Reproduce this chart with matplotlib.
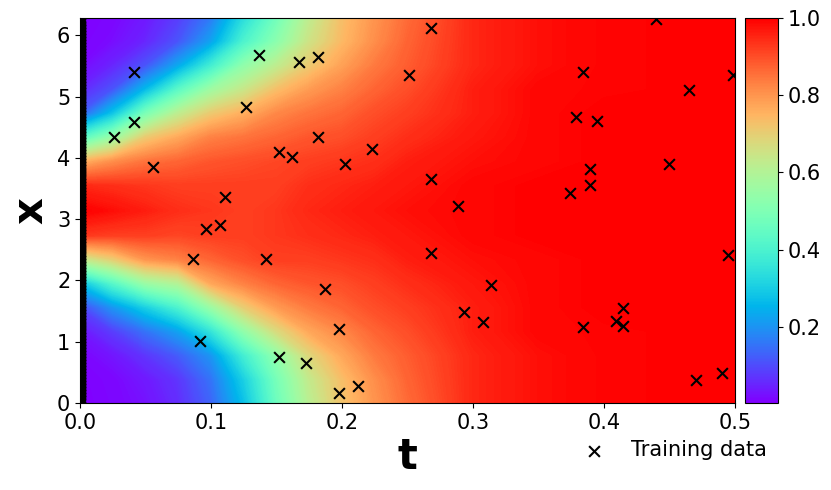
import numpy as np
import matplotlib
matplotlib.use("Agg")
import matplotlib.pyplot as plt
from matplotlib.colors import Normalize
from matplotlib.cm import ScalarMappable

# ---- field values ----
t_grid = [0.0, 0.025, 0.05, 0.075, 0.1, 0.125, 0.15, 0.175, 0.2, 0.225,
          0.25, 0.3, 0.35, 0.4, 0.5]
# columns: distance from x = pi in steps of pi/8 (0 .. 8)
# upper half (x = pi .. 2*pi)
u_upper = [
    [1.00, 0.95, 0.75, 0.42, 0.12, 0.05, 0.015, 0.005, 0.003],
    [0.98, 0.94, 0.81, 0.55, 0.28, 0.11, 0.05, 0.02, 0.012],
    [0.96, 0.93, 0.85, 0.71, 0.49, 0.26, 0.11, 0.05, 0.035],
    [0.94, 0.92, 0.87, 0.77, 0.62, 0.43, 0.23, 0.11, 0.08],
    [0.93, 0.92, 0.89, 0.83, 0.71, 0.56, 0.38, 0.22, 0.16],
    [0.92, 0.92, 0.90, 0.85, 0.76, 0.64, 0.53, 0.40, 0.33],
    [0.93, 0.92, 0.91, 0.87, 0.82, 0.73, 0.62, 0.52, 0.47],
    [0.95, 0.94, 0.92, 0.89, 0.85, 0.79, 0.71, 0.65, 0.62],
    [0.96, 0.95, 0.93, 0.90, 0.87, 0.83, 0.78, 0.74, 0.73],
    [0.97, 0.96, 0.94, 0.92, 0.90, 0.87, 0.84, 0.81, 0.80],
    [0.98, 0.97, 0.96, 0.94, 0.92, 0.90, 0.88, 0.87, 0.86],
    [0.99, 0.99, 0.98, 0.97, 0.96, 0.96, 0.95, 0.95, 0.95],
    [1.00, 1.00, 0.99, 0.99, 0.99, 0.99, 0.98, 0.98, 0.98],
    [1.00, 1.00, 1.00, 1.00, 1.00, 0.995, 0.995, 0.995, 0.995],
    [1.00, 1.00, 1.00, 1.00, 1.00, 1.00, 1.00, 1.00, 1.00],
]
# lower half (x = pi .. 0)
u_lower = [
    [1.00, 0.93, 0.62, 0.27, 0.09, 0.03, 0.01, 0.004, 0.003],
    [0.98, 0.92, 0.70, 0.42, 0.20, 0.08, 0.03, 0.012, 0.010],
    [0.96, 0.92, 0.80, 0.55, 0.30, 0.15, 0.07, 0.035, 0.025],
    [0.94, 0.91, 0.83, 0.60, 0.40, 0.22, 0.12, 0.07, 0.06],
    [0.93, 0.92, 0.87, 0.77, 0.55, 0.35, 0.20, 0.15, 0.13],
    [0.92, 0.92, 0.90, 0.83, 0.70, 0.53, 0.38, 0.30, 0.27],
    [0.93, 0.93, 0.92, 0.87, 0.79, 0.67, 0.53, 0.48, 0.46],
    [0.95, 0.94, 0.92, 0.89, 0.84, 0.77, 0.68, 0.63, 0.61],
    [0.96, 0.95, 0.93, 0.90, 0.87, 0.82, 0.77, 0.73, 0.72],
    [0.97, 0.96, 0.94, 0.92, 0.90, 0.87, 0.84, 0.81, 0.80],
    [0.98, 0.97, 0.96, 0.94, 0.92, 0.90, 0.88, 0.87, 0.86],
    [0.99, 0.99, 0.98, 0.97, 0.96, 0.96, 0.95, 0.95, 0.95],
    [1.00, 1.00, 0.99, 0.99, 0.99, 0.99, 0.98, 0.98, 0.98],
    [1.00, 1.00, 1.00, 1.00, 1.00, 0.995, 0.995, 0.995, 0.995],
    [1.00, 1.00, 1.00, 1.00, 1.00, 1.00, 1.00, 1.00, 1.00],
]

# ---- training data (t, x) ----
train_t = [0.026, 0.041, 0.041, 0.056, 0.127, 0.137, 0.167, 0.182, 0.182,
           0.152, 0.162, 0.202, 0.223, 0.111, 0.251,
           0.096, 0.107, 0.0865, 0.142, 0.187, 0.0916, 0.198, 0.152, 0.1725,
           0.198, 0.212,
           0.268, 0.440, 0.384, 0.465, 0.4985, 0.379, 0.395, 0.268, 0.389,
           0.389, 0.374, 0.4496, 0.2885,
           0.268, 0.495, 0.3137, 0.293, 0.308, 0.384, 0.409, 0.4147, 0.4147,
           0.470, 0.490]
train_x = [4.34, 5.40, 4.59, 3.85, 4.83, 5.68, 5.56, 5.65, 4.34,
           4.10, 4.01, 3.90, 4.14, 3.37, 5.35,
           2.84, 2.91, 2.35, 2.35, 1.86, 1.01, 1.21, 0.75, 0.66,
           0.17, 0.27,
           6.12, 6.27, 5.40, 5.10, 5.36, 4.66, 4.61, 3.66, 3.82,
           3.55, 3.42, 3.90, 3.22,
           2.44, 2.41, 1.93, 1.48, 1.33, 1.24, 1.34, 1.55, 1.25,
           0.375, 0.485]

# initial-condition points at t = 0 (dense, they form the black bar)
n_ic = 256

# ---- assemble the full field: lower half reversed + upper half ----
ks = np.arange(-8, 9)
x_grid = np.pi + ks * np.pi / 8
up = np.array(u_upper)
lo = np.array(u_lower)
U = np.hstack([lo[:, :0:-1], up])   # shape (nt, 17): x from 0 to 2*pi
T = np.array(t_grid)

vmin, vmax = U.min(), U.max()

fig = plt.figure(figsize=(8.31, 4.90), dpi=100)
ax = fig.add_axes([80 / 831, 87 / 490, 655 / 831, 385 / 490])
cax = fig.add_axes([745 / 831, 87 / 490, 33 / 831, 385 / 490])

levels = np.linspace(vmin, vmax, 300)
cs = ax.contourf(T, x_grid, U.T, levels=levels, cmap="rainbow",
                 vmin=vmin, vmax=vmax, antialiased=False)
cs.set_edgecolor("face")

ic_x = np.linspace(0, 2 * np.pi, n_ic)
ax.scatter(np.zeros(n_ic), ic_x, marker="x", c="black", s=60,
           linewidths=1.5, zorder=3)
ax.scatter(train_t, train_x, marker="x", c="black", s=60, linewidths=1.5,
           zorder=3, label="Training data")

ax.set_xlim(0, 0.5)
ax.set_ylim(0, 2 * np.pi)
ax.set_xticks([0.0, 0.1, 0.2, 0.3, 0.4, 0.5])
ax.set_yticks([0, 1, 2, 3, 4, 5, 6])
ax.tick_params(labelsize=15)
ax.set_xlabel("t", fontsize=30, fontweight="bold", labelpad=2)
ax.set_ylabel("x", fontsize=30, fontweight="bold", labelpad=4)

sm = ScalarMappable(norm=Normalize(vmin=vmin, vmax=vmax), cmap="rainbow")
cb = fig.colorbar(sm, cax=cax, ticks=[0.2, 0.4, 0.6, 0.8, 1.0])
cb.ax.tick_params(labelsize=15)

handles, labels = ax.get_legend_handles_labels()
fig.legend(handles, labels, loc="center left",
           bbox_to_anchor=(573 / 831, 40 / 490), frameon=False,
           fontsize=15, borderaxespad=0, borderpad=0)

fig.savefig("out.png", dpi=100)
